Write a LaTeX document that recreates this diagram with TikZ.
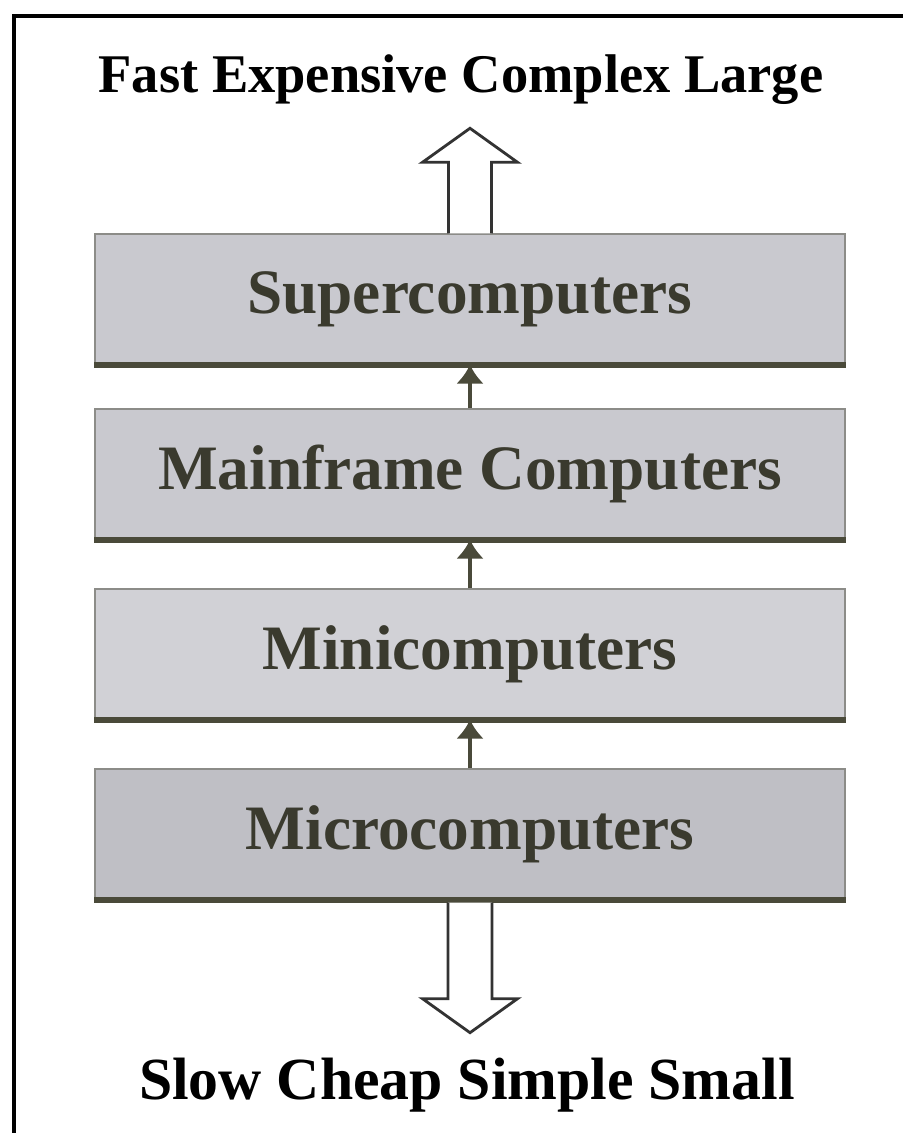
\documentclass[tikz,border=0pt]{standalone}
\usepackage{fontspec}
\setmainfont{Liberation Serif}
\usepackage{xcolor}
\usetikzlibrary{positioning,arrows.meta}

\definecolor{boxgray}{HTML}{C9C9CF}
\definecolor{edgegray}{HTML}{8C8C88}
\definecolor{footolive}{HTML}{4A4A3A}
\definecolor{labelink}{HTML}{3A3A2E}

\begin{document}
\begin{tikzpicture}[
  box/.style={
    draw=edgegray,
    line width=0.8pt,
    fill=boxgray,
    minimum width=15cm,
    minimum height=2.6cm,
    text=labelink,
    font=\fontsize{36}{40}\selectfont\bfseries
  },
  boxfoot/.style={draw=footolive, line width=3.4pt},
  arrow/.style={-{Latex[length=0.38cm, width=0.56cm]}, line width=2pt, draw=footolive},
  hollow/.style={draw=black!80, line width=1.6pt, fill=white, line join=miter},
  title/.style={font=\fontsize{31}{36}\selectfont\bfseries}
]
  \useasboundingbox (0,0) rectangle (18.06,22.66);
  \draw[line width=2.2pt] (0.28,0) -- (0.28,22.34) -- (18.06,22.34);

  \node[title] (fast) at (9.22,21.06) {Fast Expensive Complex Large};

  \node[box] (sup) at (9.4,16.68) {Supercomputers};
  \node[box] (main) at (9.4,13.18) {Mainframe Computers};
  \node[box, fill=boxgray!85] (mini) at (9.4,9.58) {Minicomputers};
  \node[box, fill=boxgray!95!black] (micro) at (9.4,5.98) {Microcomputers};

  \foreach \b in {sup,main,mini,micro}
    \draw[boxfoot] (\b.south west) -- (\b.south east);

  \draw[arrow] (micro.north) -- (mini.south);
  \draw[arrow] (mini.north) -- (main.south);
  \draw[arrow] (main.north) -- (sup.south);

  \draw[hollow] ([xshift=-0.43cm]sup.north) -- ++(0,1.42) -- ++(-0.52,0)
    -- ++(0.95,0.68) -- ++(0.95,-0.68) -- ++(-0.52,0) -- ++(0,-1.42);
  \draw[hollow] ([xshift=-0.44cm, yshift=-0.06cm]micro.south) -- ++(0,-1.92) -- ++(-0.51,0)
    -- ++(0.95,-0.68) -- ++(0.95,0.68) -- ++(-0.51,0) -- ++(0,1.92);

  \node[title, font=\fontsize{34}{38}\selectfont\bfseries] (slow) at (9.34,0.96) {Slow Cheap Simple Small};
\end{tikzpicture}
\end{document}
